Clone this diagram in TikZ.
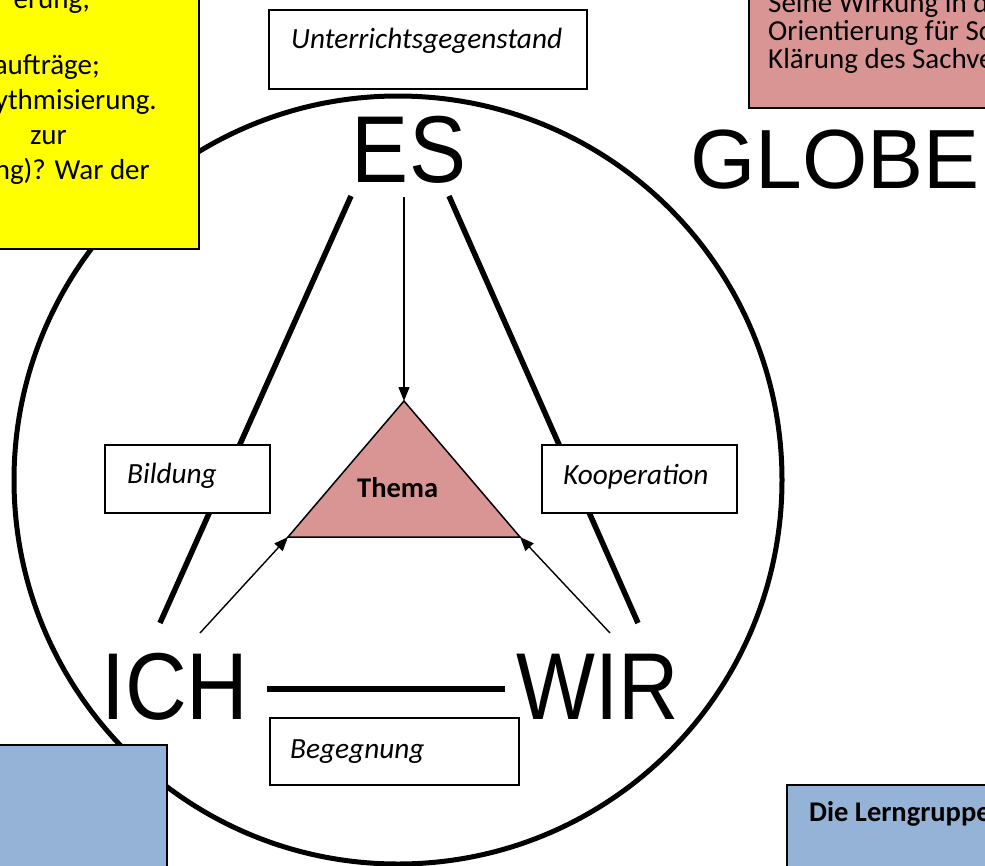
\documentclass[tikz,border=0pt]{standalone}
\usepackage{fontspec}
\setmainfont{Carlito}
\newfontfamily\arialf{Liberation Sans}
\usetikzlibrary{arrows.meta}
\definecolor{pinkfill}{HTML}{D99594}
\definecolor{bluefill}{HTML}{95B3D7}
\definecolor{yellowfill}{HTML}{FFFF00}
\begin{document}
\begin{tikzpicture}[x=1pt,y=-1pt,
  bodytext/.style={font=\fontsize{29}{34}\selectfont, inner sep=0pt},
  lbl/.style={font=\fontsize{29.3}{34}\selectfont\itshape, inner sep=0pt, anchor=base west},
  boldlbl/.style={font=\fontsize{28.5}{34}\selectfont\bfseries, inner sep=0pt, anchor=base west},
  bigword/.style={font=\arialf\fontsize{95}{95}\selectfont, inner sep=0pt, anchor=base},
  lblbox/.style={draw=black, line width=2pt, fill=white, outer sep=0pt, inner sep=0pt, anchor=north west},
  colbox/.style={draw=black, line width=1.5pt, outer sep=0pt, inner sep=0pt, anchor=north west},
  heavy/.style={line width=5.5pt},
  thinarrow/.style={line width=1.4pt, -{Triangle[length=14pt,width=11pt]}},
]
\useasboundingbox (0,0) rectangle (985,865);
\fill[white] (0,0) rectangle (985,865);

% big circle
\draw[line width=5pt] (398,480) circle[radius=384];

% endpoints
\coordinate (esl) at (351,196);
\coordinate (ichl) at (160,623);
\coordinate (esr) at (449,196);
\coordinate (wirl) at (638,623);
\coordinate (ichr) at (267,689);
\coordinate (wirw) at (505,689);
\coordinate (esfoot) at (404,197);
\coordinate (ichtip) at (200,633);
\coordinate (wirtip) at (610,633);
\coordinate (apex) at (404,401);
\coordinate (tl) at (288,537);
\coordinate (tr) at (520,537);

% heavy lines
\draw[heavy] (esl) -- (ichl);
\draw[heavy] (esr) -- (wirl);
\draw[heavy] (ichr) -- (wirw);

% label boxes
\node[lblbox, minimum width=318pt, minimum height=79pt] (ugbox) at (269,10) {};
\node[lblbox, minimum width=165pt, minimum height=68pt] (bildbox) at (105,445) {};
\node[lblbox, minimum width=195pt, minimum height=68pt] (koopbox) at (542,445) {};
\node[lblbox, minimum width=249pt, minimum height=67pt] (begbox) at (270,718) {};

\node[lbl] (ugtext) at (291,48) {Unterrichtsgegenstand};
\node[lbl] (bildtext) at (127,483) {Bildung};
\node[lbl] (kooptext) at (563,484) {Kooperation};
\node[lbl] (begtext) at (290,758) {Begegnung};

% triangle
\draw[fill=pinkfill, line width=1.5pt, line join=miter] (apex) -- (tl) -- (tr) -- cycle;
\node[boldlbl] (thema) at (357,497) {Thema};

% arrows
\draw[thinarrow] (esfoot) -- (apex);
\draw[thinarrow] (ichtip) -- (tl);
\draw[thinarrow] (wirtip) -- (tr);

% big words
\node[bigword] (es) at (409,182) {\scalebox{0.9}[1]{ES}};
\node[bigword] (ich) at (175,719) {\scalebox{0.9}[1]{ICH}};
\node[bigword] (wir) at (598,719) {\scalebox{0.88}[1]{WIR}};
\node[bigword, font=\arialf\fontsize{84}{84}\selectfont] (globe) at (835,188) {GLOBE};

% yellow box
\node[colbox, fill=yellowfill, minimum width=209pt, minimum height=259pt] (yellowbox) at (-10,-10) {};
\node[bodytext, anchor=base east] (y1) at (90,8) {erung,};
\node[bodytext, anchor=base east] (y2) at (100,74) {aufträge;};
\node[bodytext, anchor=base east] (y3) at (157,109) {ythmisierung.};
\node[bodytext, anchor=base east] (y4) at (67,144) {zur};
\node[bodytext, anchor=base east] (y5) at (150,179) {ng)? War der};

% pink box
\node[colbox, fill=pinkfill, minimum width=250pt, minimum height=118pt] (pinkbox) at (749,-10) {};
\node[bodytext, anchor=base west] (p1) at (768,12) {Seine Wirkung in d};
\node[bodytext, anchor=base west] (p2) at (768,40) {Orientierung für Sc};
\node[bodytext, anchor=base west] (p3) at (768,68) {Klärung des Sachve};

% blue boxes
\node[colbox, fill=bluefill, minimum width=177pt, minimum height=130pt] (blueleft) at (-10,745) {};
\node[colbox, fill=bluefill, minimum width=210pt, minimum height=90pt] (blueright) at (787,785) {};
\node[boldlbl] (lerngruppe) at (809,821) {Die Lerngruppe};
\end{tikzpicture}
\end{document}
